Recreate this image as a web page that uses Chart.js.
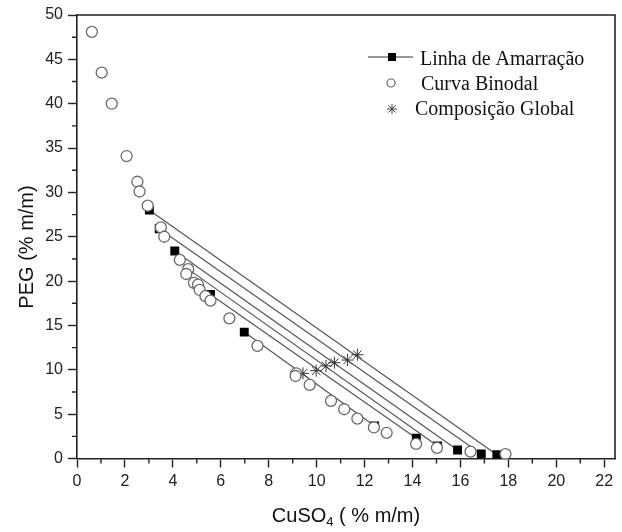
<!DOCTYPE html>
<html>
<head>
<meta charset="utf-8">
<script src="https://cdn.jsdelivr.net/npm/chart.js@4.4.1/dist/chart.umd.min.js"></script>
<style>
  html, body { margin: 0; padding: 0; background: #fff; }
  #wrap { width: 622px; height: 532px; }
</style>
</head>
<body>
<div id="wrap"><canvas id="chart" width="622" height="532"></canvas></div>
<script>
// Curva binodal (CuSO4 x PEG, % m/m)
const binodalX = [0.62, 1.03, 1.45, 2.07, 2.52, 2.61, 2.95, 3.50, 3.64, 4.29, 4.64, 4.56,
                  4.88, 5.05, 5.12, 5.36, 5.57, 6.36, 7.53, 9.15, 9.12, 9.71, 10.6, 11.15,
                  11.7, 12.39, 12.92, 14.15, 15.02, 16.42, 17.88];
const binodalY = [48.1, 43.5, 40.0, 34.1, 31.2, 30.1, 28.5, 26.05, 25.0, 22.4, 21.35, 20.8,
                  19.8, 19.6, 19.0, 18.3, 17.8, 15.8, 12.7, 9.6, 9.3, 8.3, 6.5, 5.55,
                  4.5, 3.5, 2.9, 1.65, 1.2, 0.77, 0.5];

// Linhas de amarração: fase superior / fase inferior
const tieTopX = [3.02, 3.43, 4.08, 4.64, 5.57, 6.98];
const tieTopY = [28.0, 25.9, 23.4, 21.35, 18.5, 14.25];
const tieBotX = [17.52, 16.87, 15.88, 15.05, 14.16, 12.42];
const tieBotY = [0.43, 0.5, 0.96, 1.41, 2.28, 3.67];

// Composição global
const globalX = [9.43, 9.98, 10.39, 10.74, 11.29, 11.7];
const globalY = [9.6, 9.9, 10.44, 10.8, 11.1, 11.7];

const xTickLabels = [0, 2, 4, 6, 8, 10, 12, 14, 16, 18, 20, 22];
const yTickLabels = [0, 5, 10, 15, 20, 25, 30, 35, 40, 45, 50];

const axisColor = '#222';
const tickFont = { family: '"Liberation Sans", Arial, sans-serif', size: 16 };
const titleFont = '20px "Liberation Sans", Arial, sans-serif';
const subFont = '13px "Liberation Sans", Arial, sans-serif';
const legendFont = '20px "Liberation Serif", "Times New Roman", serif';

// tie line datasets
const tieSets = tieTopX.map((x, i) => ({
    label: 'Linha de Amarração',
    data: [{ x: x, y: tieTopY[i] }, { x: tieBotX[i], y: tieBotY[i] }],
    showLine: true,
    borderColor: '#555',
    borderWidth: 1.2,
    pointStyle: 'rect',
    pointRadius: 6.3,
    pointBackgroundColor: '#000',
    pointBorderColor: '#000',
    pointBorderWidth: 0,
    order: 2
}));

// minor ticks, frame, axis titles and legend
const decorPlugin = {
    id: 'decor',
    afterDraw(chart) {
        const ctx = chart.ctx;
        const a = chart.chartArea;
        const xs = chart.scales.x, ys = chart.scales.y;
        ctx.save();
        ctx.strokeStyle = axisColor;
        ctx.lineWidth = 1.6;
        // top and right frame
        ctx.beginPath();
        ctx.moveTo(a.left, a.top);
        ctx.lineTo(a.right, a.top);
        ctx.lineTo(a.right, a.bottom);
        ctx.stroke();
        // minor ticks
        ctx.lineWidth = 1.4;
        ctx.beginPath();
        for (let v = 1; v < 22; v += 2) {
            const px = xs.getPixelForValue(v);
            ctx.moveTo(px, a.bottom);
            ctx.lineTo(px, a.bottom + 5);
        }
        for (let v = 2.5; v < 50; v += 5) {
            const py = ys.getPixelForValue(v);
            ctx.moveTo(a.left, py);
            ctx.lineTo(a.left - 5, py);
        }
        ctx.stroke();

        // axis titles
        ctx.fillStyle = '#111';
        ctx.textBaseline = 'alphabetic';
        const p1 = 'CuSO', p2 = '4', p3 = ' ( % m/m)';
        ctx.font = titleFont;
        const w1 = ctx.measureText(p1).width;
        const w3 = ctx.measureText(p3).width;
        ctx.font = subFont;
        const w2 = ctx.measureText(p2).width;
        const tx = (a.left + a.right) / 2 - (w1 + w2 + w3) / 2;
        const ty = 522;
        ctx.font = titleFont;
        ctx.fillText(p1, tx, ty);
        ctx.font = subFont;
        ctx.fillText(p2, tx + w1, ty + 4);
        ctx.font = titleFont;
        ctx.fillText(p3, tx + w1 + w2, ty);

        ctx.save();
        ctx.translate(33, 247);
        ctx.rotate(-Math.PI / 2);
        ctx.textAlign = 'center';
        ctx.fillText('PEG (% m/m)', 0, 0);
        ctx.restore();

        // legend
        ctx.font = legendFont;
        ctx.textAlign = 'left';
        ctx.strokeStyle = '#333';
        ctx.lineWidth = 1.2;
        ctx.beginPath();
        ctx.moveTo(368, 57);
        ctx.lineTo(413, 57);
        ctx.stroke();
        ctx.fillStyle = '#000';
        ctx.fillRect(388, 53, 8, 8);
        ctx.fillStyle = '#111';
        ctx.fillText('Linha de Amarração', 420, 65);

        ctx.strokeStyle = '#666';
        ctx.beginPath();
        ctx.arc(391, 83, 4, 0, Math.PI * 2);
        ctx.stroke();
        ctx.fillText('Curva Binodal', 421, 90);

        ctx.strokeStyle = '#444';
        ctx.lineWidth = 1;
        ctx.beginPath();
        for (let k = 0; k < 4; k++) {
            const ang = k * Math.PI / 4;
            ctx.moveTo(392 - 5 * Math.cos(ang), 109 - 5 * Math.sin(ang));
            ctx.lineTo(392 + 5 * Math.cos(ang), 109 + 5 * Math.sin(ang));
        }
        ctx.stroke();
        ctx.fillText('Composição Global', 415, 115);
        ctx.restore();
    }
};

new Chart(document.getElementById('chart'), {
    type: 'scatter',
    data: {
        datasets: [
            {
                label: 'Curva Binodal',
                data: binodalX.map((x, i) => ({ x: x, y: binodalY[i] })),
                pointStyle: 'circle',
                pointRadius: 5.5,
                pointBackgroundColor: '#fff',
                pointBorderColor: '#6a6a6a',
                pointBorderWidth: 1.3,
                order: 0
            },
            {
                label: 'Composição Global',
                data: globalX.map((x, i) => ({ x: x, y: globalY[i] })),
                pointStyle: 'star',
                pointRadius: 6,
                pointBorderColor: '#333',
                pointBorderWidth: 1,
                order: 1
            },
            ...tieSets
        ]
    },
    options: {
        responsive: false,
        animation: false,
        devicePixelRatio: 1,
        layout: { padding: { left: 0, top: 15, right: 1, bottom: 0 } },
        plugins: {
            legend: { display: false },
            tooltip: { enabled: false }
        },
        scales: {
            x: {
                type: 'linear',
                min: 0,
                max: 22.45,
                afterBuildTicks: (s) => { s.ticks = []; for (let v = 0; v <= 22; v += 2) s.ticks.push({ value: v }); },
                afterFit: (s) => { s.height = 73.5; },
                ticks: {
                    color: axisColor,
                    font: tickFont,
                    padding: 4,
                    maxRotation: 0,
                    callback: (v) => xTickLabels.includes(v) ? v : ''
                },
                grid: {
                    drawOnChartArea: false,
                    drawTicks: true,
                    tickLength: 9,
                    tickColor: axisColor,
                    tickWidth: 1.4
                },
                border: { display: true, color: axisColor, width: 1.6 }
            },
            y: {
                type: 'linear',
                min: 0,
                max: 50,
                afterBuildTicks: (s) => { s.ticks = yTickLabels.map(v => ({ value: v })); },
                afterFit: (s) => { s.width = 77; },
                ticks: {
                    color: axisColor,
                    font: tickFont,
                    padding: 5
                },
                grid: {
                    drawOnChartArea: false,
                    drawTicks: true,
                    tickLength: 9,
                    tickColor: axisColor,
                    tickWidth: 1.4
                },
                border: { display: true, color: axisColor, width: 1.6 }
            }
        }
    },
    plugins: [decorPlugin]
});
</script>
</body>
</html>
